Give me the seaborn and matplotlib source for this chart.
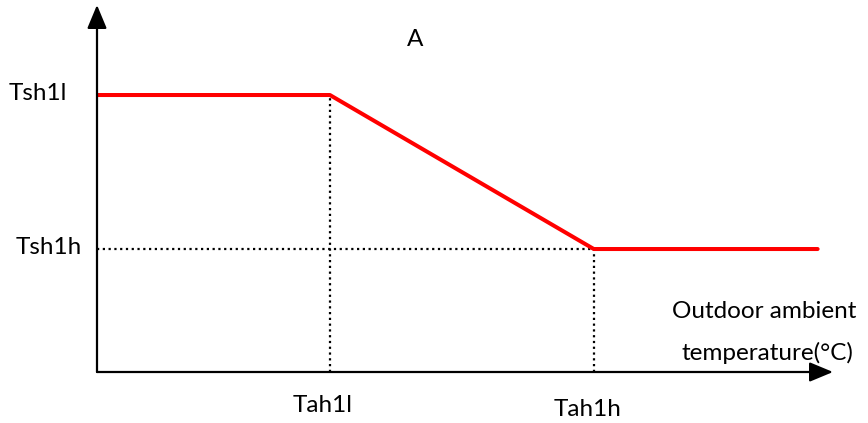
import matplotlib
matplotlib.use("Agg")
import matplotlib.pyplot as plt
import seaborn as sns
import pandas as pd

sns.set_theme(style="white")
plt.rcParams["font.family"] = ["Lato", "DejaVu Sans"]

# Control curve: setpoint vs outdoor ambient temperature
x_labels = ["Tah1l", "Tah1h"]
y_labels = ["Tsh1l", "Tsh1h"]
tah = [10.0, 21.33]          # Tah1l, Tah1h
tsh = [10.0, 4.44]           # Tsh1l, Tsh1h
x_end = 30.94
x_max, y_max = 31.6, 13.25

curve = pd.DataFrame({
    "x": [0.0, tah[0], tah[1], x_end],
    "y": [tsh[0], tsh[0], tsh[1], tsh[1]],
})

W, H = 868, 423
fig = plt.figure(figsize=(W / 100, H / 100), dpi=100)
ax = fig.add_axes([97 / W, (H - 372) / H, (833 - 97) / W, (372 - 5) / H])

# dotted guide lines
dot = dict(color="black", ls=(0, (1, 1.6)), lw=1.6)
ax.plot([tah[0], tah[0]], [0, tsh[0]], **dot)
ax.plot([0, tah[1]], [tsh[1], tsh[1]], **dot)
ax.plot([tah[1], tah[1]], [0, tsh[1]], **dot)

sns.lineplot(data=curve, x="x", y="y", ax=ax, color="#ff0000", lw=2.9,
             sort=False, legend=False)
ax.set_xlim(0, x_max)
ax.set_ylim(0, y_max)
ax.axis("off")

# axes with arrow heads
arrow = dict(arrowstyle="-|>,head_length=1.2,head_width=0.5", color="black",
             lw=1.6, shrinkA=0, shrinkB=0)
ax.annotate("", xy=(x_max, 0), xytext=(0, 0), arrowprops=arrow, annotation_clip=False)
ax.annotate("", xy=(0, y_max), xytext=(0, 0), arrowprops=arrow, annotation_clip=False)

fs = 17.5
tk = dict(fontsize=fs, ha="center", va="center", color="black")
fig.text(38 / W, 1 - 93 / H, y_labels[0], **tk)
fig.text(49 / W, 1 - 247 / H, y_labels[1], **tk)
fig.text(415 / W, 1 - 40 / H, "A", **tk)
fig.text(323 / W, 1 - 405 / H, x_labels[0], **tk)
fig.text(588 / W, 1 - 409 / H, x_labels[1], **tk)
fig.text(764 / W, 1 - 311 / H, "Outdoor ambient", **tk)
fig.text(767 / W, 1 - 353 / H, "temperature(°C)", **tk)

fig.savefig("out.png", dpi=100, facecolor="white")
